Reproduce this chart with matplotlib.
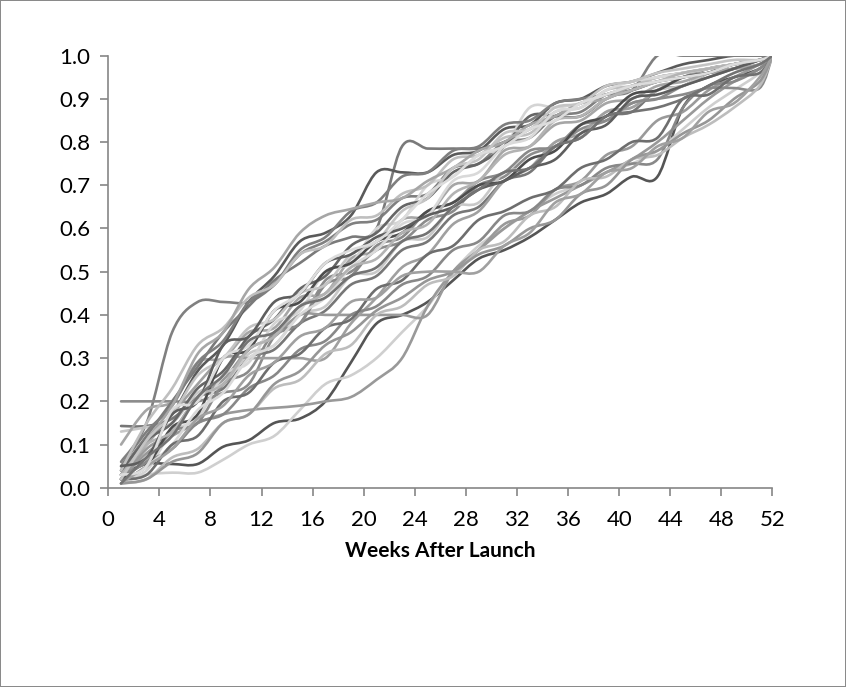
import matplotlib
matplotlib.use("Agg")
import matplotlib.pyplot as plt
from matplotlib.path import Path
from matplotlib.patches import PathPatch
import numpy as np

weeks = [1, 3, 5, 7, 9, 11, 13, 15, 17, 19, 21, 23, 25, 27, 29, 31, 33, 35, 37, 39, 41, 43, 45, 47, 49, 51, 52]

s01 = [0.06, 0.15, 0.36, 0.43, 0.43, 0.43, 0.47, 0.54, 0.57, 0.61, 0.62, 0.67, 0.68, 0.74, 0.75, 0.80, 0.81, 0.86, 0.87, 0.91, 0.92, 0.94, 0.95, 0.97, 0.98, 0.99, 1.0]
s02 = [0.20, 0.20, 0.20, 0.20, 0.22, 0.24, 0.35, 0.38, 0.48, 0.50, 0.55, 0.57, 0.62, 0.64, 0.70, 0.72, 0.77, 0.79, 0.83, 0.85, 0.89, 0.90, 0.93, 0.95, 0.97, 0.99, 1.0]
s03 = [0.143, 0.143, 0.16, 0.21, 0.23, 0.30, 0.32, 0.38, 0.41, 0.47, 0.49, 0.55, 0.57, 0.63, 0.65, 0.71, 0.73, 0.79, 0.81, 0.86, 0.87, 0.92, 0.93, 0.96, 0.98, 0.99, 1.0]
s04 = [0.13, 0.14, 0.15, 0.22, 0.24, 0.31, 0.33, 0.40, 0.42, 0.49, 0.50, 0.57, 0.58, 0.65, 0.66, 0.73, 0.74, 0.80, 0.81, 0.87, 0.88, 0.92, 0.93, 0.96, 0.97, 0.99, 1.0]
s05 = [0.10, 0.18, 0.20, 0.29, 0.30, 0.36, 0.37, 0.44, 0.45, 0.53, 0.55, 0.62, 0.63, 0.70, 0.71, 0.78, 0.79, 0.84, 0.85, 0.89, 0.90, 0.93, 0.94, 0.96, 0.97, 0.98, 1.0]
s06 = [0.03, 0.055, 0.055, 0.055, 0.095, 0.11, 0.15, 0.16, 0.20, 0.29, 0.38, 0.40, 0.43, 0.48, 0.53, 0.55, 0.58, 0.62, 0.66, 0.68, 0.72, 0.72, 0.88, 0.93, 0.95, 0.97, 1.0]
s07 = [0.01, 0.03, 0.035, 0.035, 0.065, 0.10, 0.12, 0.18, 0.24, 0.26, 0.30, 0.36, 0.42, 0.50, 0.56, 0.60, 0.64, 0.68, 0.70, 0.73, 0.75, 0.78, 0.83, 0.88, 0.92, 0.96, 1.0]
s08 = [0.02, 0.08, 0.12, 0.15, 0.17, 0.18, 0.185, 0.19, 0.20, 0.21, 0.25, 0.30, 0.42, 0.50, 0.55, 0.60, 0.64, 0.67, 0.70, 0.73, 0.76, 0.80, 0.85, 0.90, 0.94, 0.97, 1.0]
s09 = [0.02, 0.09, 0.13, 0.21, 0.25, 0.32, 0.35, 0.40, 0.40, 0.40, 0.40, 0.40, 0.40, 0.50, 0.55, 0.61, 0.63, 0.69, 0.71, 0.77, 0.79, 0.85, 0.87, 0.92, 0.95, 0.98, 1.0]
s10 = [0.03, 0.10, 0.17, 0.24, 0.30, 0.30, 0.30, 0.30, 0.30, 0.38, 0.44, 0.51, 0.54, 0.61, 0.64, 0.71, 0.74, 0.80, 0.82, 0.87, 0.88, 0.92, 0.95, 0.97, 0.98, 0.99, 1.0]
s11 = [0.04, 0.12, 0.20, 0.28, 0.36, 0.42, 0.48, 0.52, 0.56, 0.58, 0.60, 0.79, 0.785, 0.785, 0.785, 0.80, 0.83, 0.86, 0.89, 0.91, 0.93, 0.95, 0.96, 0.97, 0.98, 0.99, 1.0]
s12 = [0.03, 0.11, 0.17, 0.27, 0.33, 0.43, 0.49, 0.57, 0.59, 0.63, 0.73, 0.73, 0.73, 0.77, 0.78, 0.83, 0.84, 0.89, 0.90, 0.93, 0.94, 0.96, 0.98, 0.99, 1.0, 1.0, 1.0]
s13 = [0.02, 0.04, 0.13, 0.16, 0.26, 0.29, 0.38, 0.41, 0.50, 0.52, 0.60, 0.62, 0.70, 0.72, 0.77, 0.79, 0.88, 0.88, 0.89, 0.91, 0.93, 0.95, 0.96, 0.97, 0.98, 0.99, 1.0]
s14 = [0.04, 0.11, 0.15, 0.23, 0.27, 0.35, 0.39, 0.46, 0.49, 0.56, 0.59, 0.65, 0.67, 0.73, 0.75, 0.79, 0.86, 0.86, 0.86, 0.90, 0.92, 0.94, 0.95, 0.96, 0.97, 0.99, 1.0]
s15 = [0.05, 0.13, 0.19, 0.29, 0.34, 0.43, 0.47, 0.55, 0.58, 0.64, 0.66, 0.72, 0.73, 0.78, 0.79, 0.84, 0.85, 0.89, 0.90, 0.91, 0.92, 1.0, 1.0, 1.0, 1.0, 1.0, 1.0]
s16 = [0.03, 0.06, 0.13, 0.15, 0.24, 0.27, 0.36, 0.38, 0.47, 0.49, 0.56, 0.58, 0.64, 0.66, 0.71, 0.73, 0.78, 0.79, 0.84, 0.85, 0.89, 0.90, 0.91, 0.925, 0.925, 0.925, 1.0]
s17 = [0.02, 0.06, 0.09, 0.15, 0.17, 0.23, 0.26, 0.32, 0.34, 0.40, 0.42, 0.47, 0.49, 0.55, 0.57, 0.63, 0.64, 0.69, 0.70, 0.74, 0.75, 0.76, 0.88, 0.93, 0.94, 0.97, 1.0]
s18 = [0.01, 0.02, 0.07, 0.09, 0.15, 0.17, 0.23, 0.25, 0.31, 0.33, 0.40, 0.42, 0.47, 0.49, 0.55, 0.57, 0.63, 0.65, 0.71, 0.72, 0.76, 0.77, 0.81, 0.84, 0.88, 0.93, 1.0]
s19 = [0.04, 0.15, 0.23, 0.33, 0.37, 0.44, 0.47, 0.54, 0.56, 0.62, 0.63, 0.68, 0.70, 0.76, 0.77, 0.81, 0.82, 0.87, 0.88, 0.92, 0.93, 0.95, 0.96, 0.97, 0.98, 0.99, 1.0]
s20 = [0.02, 0.11, 0.19, 0.31, 0.36, 0.46, 0.51, 0.59, 0.63, 0.645, 0.66, 0.67, 0.71, 0.74, 0.78, 0.80, 0.84, 0.86, 0.89, 0.90, 0.93, 0.94, 0.95, 0.96, 0.97, 0.98, 1.0]
s21 = [0.02, 0.05, 0.14, 0.17, 0.30, 0.32, 0.41, 0.43, 0.50, 0.52, 0.57, 0.59, 0.64, 0.66, 0.70, 0.71, 0.76, 0.78, 0.84, 0.86, 0.91, 0.92, 0.95, 0.96, 0.98, 0.99, 1.0]
s22 = [0.01, 0.05, 0.10, 0.18, 0.22, 0.30, 0.33, 0.40, 0.44, 0.51, 0.55, 0.61, 0.63, 0.71, 0.73, 0.79, 0.81, 0.87, 0.88, 0.92, 0.94, 0.95, 0.96, 0.97, 0.98, 0.99, 1.0]
s23 = [0.02, 0.03, 0.10, 0.12, 0.20, 0.22, 0.29, 0.31, 0.37, 0.39, 0.46, 0.48, 0.54, 0.56, 0.62, 0.64, 0.67, 0.69, 0.74, 0.76, 0.80, 0.81, 0.90, 0.91, 0.95, 0.96, 1.0]
s24 = [0.03, 0.10, 0.13, 0.21, 0.24, 0.32, 0.35, 0.42, 0.45, 0.51, 0.53, 0.59, 0.61, 0.68, 0.71, 0.77, 0.79, 0.85, 0.86, 0.90, 0.92, 0.94, 0.96, 0.97, 0.98, 0.99, 1.0]
s25 = [0.01, 0.02, 0.06, 0.08, 0.15, 0.17, 0.24, 0.27, 0.33, 0.36, 0.41, 0.44, 0.48, 0.50, 0.54, 0.56, 0.60, 0.62, 0.68, 0.70, 0.76, 0.78, 0.82, 0.85, 0.90, 0.94, 1.0]
s26 = [0.02, 0.11, 0.17, 0.26, 0.30, 0.37, 0.39, 0.45, 0.47, 0.54, 0.57, 0.64, 0.67, 0.74, 0.76, 0.82, 0.83, 0.88, 0.89, 0.93, 0.94, 0.96, 0.97, 0.98, 0.99, 0.99, 1.0]
s27 = [0.05, 0.07, 0.17, 0.20, 0.33, 0.35, 0.43, 0.45, 0.52, 0.54, 0.58, 0.60, 0.63, 0.65, 0.69, 0.71, 0.74, 0.76, 0.82, 0.84, 0.90, 0.91, 0.93, 0.95, 0.97, 0.99, 1.0]
s28 = [0.01, 0.05, 0.09, 0.16, 0.19, 0.26, 0.29, 0.35, 0.37, 0.43, 0.44, 0.49, 0.50, 0.50, 0.50, 0.56, 0.59, 0.66, 0.68, 0.73, 0.74, 0.79, 0.81, 0.87, 0.89, 0.95, 1.0]
s29 = [0.03, 0.05, 0.18, 0.20, 0.30, 0.33, 0.41, 0.45, 0.52, 0.55, 0.57, 0.62, 0.68, 0.72, 0.77, 0.79, 0.83, 0.85, 0.89, 0.91, 0.93, 0.94, 0.95, 0.96, 0.98, 0.99, 1.0]
s30 = [0.01, 0.07, 0.12, 0.21, 0.26, 0.34, 0.36, 0.42, 0.44, 0.49, 0.51, 0.57, 0.59, 0.65, 0.69, 0.73, 0.74, 0.79, 0.81, 0.86, 0.87, 0.88, 0.90, 0.93, 0.96, 0.98, 1.0]

curves = [s01, s02, s03, s04, s05, s06, s07, s08, s09, s10,
          s11, s12, s13, s14, s15, s16, s17, s18, s19, s20,
          s21, s22, s23, s24, s25, s26, s27, s28, s29, s30]
greys = ["#808080", "#8c8c8c", "#777777", "#c8c8c8", "#a6a6a6", "#555555", "#cfcfcf", "#999999", "#9a9a9a", "#a0a0a0",
         "#7a7a7a", "#5a5a5a", "#d4d4d4", "#666666", "#7f7f7f", "#8a8a8a", "#888888", "#bdbdbd", "#bfbfbf", "#a6a6a6",
         "#4d4d4d", "#d9d9d9", "#6e6e6e", "#b3b3b3", "#969696", "#c4c4c4", "#5e5e5e", "#a0a0a0", "#dcdcdc", "#737373"]


def smooth_path(xs, ys):
    # Excel-like smoothed line: Catmull-Rom segments as cubic Beziers
    pts = np.column_stack([xs, ys])
    n = len(pts)
    verts = [pts[0]]
    codes = [Path.MOVETO]
    for i in range(n - 1):
        p0 = pts[max(i - 1, 0)]
        p1 = pts[i]
        p2 = pts[i + 1]
        p3 = pts[min(i + 2, n - 1)]
        c1 = p1 + (p2 - p0) / 6
        c2 = p2 - (p3 - p1) / 6
        verts += [c1, c2, p2]
        codes += [Path.CURVE4] * 3
    return Path(verts, codes)


plt.rcParams["font.family"] = ["Lato", "DejaVu Sans"]

fig = plt.figure(figsize=(8.46, 6.87), dpi=100, edgecolor="#8a8a8a", linewidth=1.2)
ax = fig.add_axes([0.128, 0.29, 0.785, 0.629])

for ys, c in zip(curves, greys):
    ax.add_patch(PathPatch(smooth_path(weeks, ys), facecolor="none", edgecolor=c, lw=1.9, capstyle="round", joinstyle="round"))

ax.set_xlim(0, 52)
ax.set_ylim(0, 1.0)
ax.set_xticks(range(0, 53, 4))
ax.set_yticks(np.arange(0, 1.01, 0.1))
ax.set_yticklabels([f"{v:.1f}" for v in np.arange(0, 1.01, 0.1)])

for side in ["top", "right"]:
    ax.spines[side].set_visible(False)
for side in ["left", "bottom"]:
    ax.spines[side].set_color("#868686")
    ax.spines[side].set_linewidth(1.2)
ax.tick_params(axis="y", direction="out", length=6, width=1.2, color="#868686", labelsize=16, labelcolor="black", pad=7)
ax.tick_params(axis="x", direction="out", length=6, width=1.2, color="#868686", labelsize=16, labelcolor="black", pad=10)
ax.set_xlabel("Weeks After Launch", fontsize=15, fontweight="bold", labelpad=8)

fig.savefig("out.png", dpi=100)
